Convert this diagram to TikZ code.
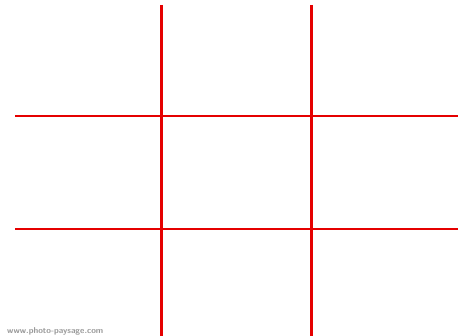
\documentclass[tikz,border=0pt]{standalone}
\begin{document}
\begin{tikzpicture}[
    x=1pt, y=-1pt,
    gridline/.style={draw=red!90!black, line width=2.8pt},
    mark text/.style={font=\sffamily\bfseries\fontsize{8.5}{9}\selectfont, text=black!40, inner sep=0pt, anchor=south west}
]

% Frame
\useasboundingbox[fill=white] (0,0) rectangle (458,336);

% Vertical thirds
\draw[gridline] (161.5,5) -- (161.5,336);
\draw[gridline] (311.5,5) -- (311.5,336);

% Horizontal thirds
\draw[gridline] (15,116) -- (458,116);
\draw[gridline] (15,229) -- (458,229);

% Watermark
\node[mark text] (wm) at (7,335.5) {www.photo-paysage.com};

\end{tikzpicture}
\end{document}
